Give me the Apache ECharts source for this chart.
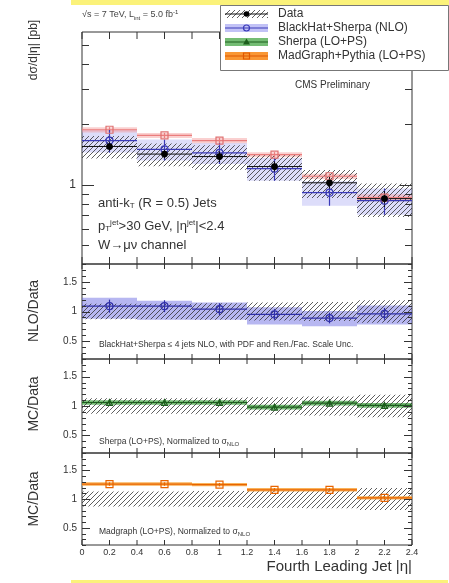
<!DOCTYPE html>
<html>
<head>
<meta charset="utf-8">
<script src="https://cdn.jsdelivr.net/npm/echarts@6/dist/echarts.min.js"></script>
<style>
  html, body { margin: 0; padding: 0; background: #fff; }
  #chart { width: 449px; height: 583px; }
</style>
</head>
<body>
<div id="chart"></div>
<script>
// bins in fourth leading jet |eta|
const binLo = [0, 0.4, 0.8, 1.2, 1.6, 2.0]
const binHi = [0.4, 0.8, 1.2, 1.6, 2.0, 2.4]
const binMid = [0.2, 0.6, 1.0, 1.4, 1.8, 2.2]

// main panel: dsigma/d|eta| [pb]
const dataXsec = [1.55, 1.42, 1.38, 1.23, 1.02, 0.85]
const dataStat = [0.05, 0.05, 0.06, 0.06, 0.07, 0.09] // relative
const dataSyst = [0.13, 0.13, 0.14, 0.15, 0.16, 0.19] // relative (hatched)
const nloXsec = [1.66, 1.5, 1.44, 1.2, 0.91, 0.83]
const nloUnc = [0.13, 0.12, 0.12, 0.13, 0.14, 0.15]
const mgXsec = [1.88, 1.76, 1.66, 1.41, 1.1, 0.86]
const mgUnc = [0.03, 0.03, 0.03, 0.03, 0.03, 0.04]

// ratio panels
const nloRatio = [1.09, 1.09, 1.04, 0.95, 0.89, 0.96]
const nloRatioErr = [0.11, 0.1, 0.1, 0.09, 0.09, 0.1]
const nloRatioLo = [0.88, 0.86, 0.86, 0.78, 0.75, 0.78]
const nloRatioHi = [1.23, 1.18, 1.15, 1.07, 1.01, 1.1]
const sherpaRatio = [1.06, 1.06, 1.06, 0.98, 1.05, 1.01]
const sherpaUnc = [0.04, 0.04, 0.04, 0.04, 0.04, 0.04]
const mgRatio = [1.26, 1.26, 1.25, 1.16, 1.16, 1.02]
const mgRatioUnc = [0.03, 0.03, 0.03, 0.03, 0.03, 0.03]

// ticks
const logMinorTicks = [0.5, 0.6, 0.7, 0.8, 0.9, 2, 3, 4, 5]
const logMajorTicks = [1]
const ratioMajorTicks = [0.5, 1, 1.5]
const ratioMinorTicks = [0.2, 0.3, 0.4, 0.6, 0.7, 0.8, 0.9, 1.1, 1.2, 1.3, 1.4, 1.6, 1.7, 1.8]
const xTickVals = [0, 0.2, 0.4, 0.6, 0.8, 1, 1.2, 1.4, 1.6, 1.8, 2, 2.2, 2.4]

const FONT = '"Liberation Sans", Arimo, Helvetica, Arial, sans-serif'
const LEFT = 82
const WIDTH = 330
const panels = [
  { top: 32, height: 232, ymin: 0.4, ymax: 5.8 },
  { top: 264, height: 95, ymin: 0.2, ymax: 1.8 },
  { top: 359, height: 94, ymin: 0.2, ymax: 1.8 },
  { top: 453, height: 92, ymin: 0.2, ymax: 1.8 },
]

// hatch pattern "////"
const hc = document.createElement('canvas')
hc.width = 5
hc.height = 5
const hg = hc.getContext('2d')
hg.strokeStyle = 'rgba(45,45,45,0.85)'
hg.lineWidth = 0.9
hg.beginPath()
hg.moveTo(0, 5); hg.lineTo(5, 0)
hg.moveTo(-1, 1); hg.lineTo(1, -1)
hg.moveTo(4, 6); hg.lineTo(6, 4)
hg.stroke()
const hatch = { image: hc, repeat: 'repeat' }

const chart = echarts.init(document.getElementById('chart'))

function bandItem(fill) {
  return function (params, api) {
    const a = api.coord([api.value(0), api.value(3)])
    const b = api.coord([api.value(1), api.value(2)])
    return {
      type: 'rect',
      shape: { x: a[0], y: a[1], width: b[0] - a[0], height: b[1] - a[1] },
      style: { fill: fill },
    }
  }
}

function errItem(color, lw) {
  return function (params, api) {
    const a = api.coord([api.value(0), api.value(3)])
    const b = api.coord([api.value(1), api.value(3)])
    const c = api.coord([api.value(2), api.value(4)])
    const d = api.coord([api.value(2), api.value(5)])
    return {
      type: 'group',
      children: [
        { type: 'line', shape: { x1: a[0], y1: a[1], x2: b[0], y2: b[1] }, style: { stroke: color, lineWidth: lw } },
        { type: 'line', shape: { x1: c[0], y1: c[1], x2: d[0], y2: d[1] }, style: { stroke: color, lineWidth: lw } },
      ],
    }
  }
}

// y ticks on left and right frame, drawn inward
function yTickItem(params, api) {
  const v = api.value(1)
  const len = api.value(2)
  const l = api.coord([0, v])
  const r = api.coord([2.4, v])
  const y = Math.round(l[1]) + 0.5
  return {
    type: 'group',
    children: [
      { type: 'line', shape: { x1: l[0], y1: y, x2: l[0] + len, y2: y }, style: { stroke: '#333', lineWidth: 1 } },
      { type: 'line', shape: { x1: r[0], y1: y, x2: r[0] - len, y2: y }, style: { stroke: '#333', lineWidth: 1 } },
    ],
  }
}

function xTickItem(p) {
  return function (params, api) {
    const v = api.value(0)
    const len = api.value(2)
    const b = api.coord([v, p.ymin])
    const t = api.coord([v, p.ymax])
    return {
      type: 'group',
      children: [
        { type: 'line', shape: { x1: b[0], y1: b[1], x2: b[0], y2: b[1] - len }, style: { stroke: '#333', lineWidth: 1 } },
        { type: 'line', shape: { x1: t[0], y1: t[1], x2: t[0], y2: t[1] + len }, style: { stroke: '#333', lineWidth: 1 } },
      ],
    }
  }
}

const series = []

function addBand(g, lo, hi, fill, z) {
  series.push({
    type: 'custom', xAxisIndex: g, yAxisIndex: g, silent: true, z: z,
    renderItem: bandItem(fill),
    encode: { x: [0, 1], y: [2, 3] },
    data: binLo.map((x, i) => [x, binHi[i], lo[i], hi[i]]),
  })
}

function addErr(g, val, lo, hi, color, lw, z) {
  series.push({
    type: 'custom', xAxisIndex: g, yAxisIndex: g, silent: true, z: z,
    renderItem: errItem(color, lw),
    encode: { x: [0, 1, 2], y: [3, 4, 5] },
    data: binLo.map((x, i) => [x, binHi[i], binMid[i], val[i], lo[i], hi[i]]),
  })
}

function addMarks(g, val, symbol, size, fill, border, z) {
  series.push({
    type: 'scatter', xAxisIndex: g, yAxisIndex: g, silent: true, z: z,
    symbol: symbol, symbolSize: size,
    itemStyle: { color: fill, borderColor: border, borderWidth: 1.2, opacity: 1 },
    data: binMid.map((x, i) => [x, val[i]]),
  })
}

function addTicks(g, p, yMajor, yMinor, yMajLen, yMinLen, xLen) {
  series.push({
    type: 'custom', xAxisIndex: g, yAxisIndex: g, silent: true, z: 20, clip: false,
    renderItem: yTickItem,
    encode: { x: 0, y: 1 },
    data: yMajor.map((v) => [0, v, yMajLen]).concat(yMinor.map((v) => [0, v, yMinLen])),
  })
  series.push({
    type: 'custom', xAxisIndex: g, yAxisIndex: g, silent: true, z: 20, clip: false,
    renderItem: xTickItem(p),
    encode: { x: 0, y: 1 },
    data: xTickVals.map((v) => [v, p.ymin, xLen]),
  })
}

const rel = (v, u, s) => v.map((y, i) => y * (1 + s * u[i]))
const abs = (v, u, s) => v.map((y, i) => y + s * u[i])
const ones = binMid.map(() => 1)

// main panel
addBand(0, rel(nloXsec, nloUnc, -1), rel(nloXsec, nloUnc, 1), 'rgba(120,120,235,0.25)', 3)
addBand(0, rel(mgXsec, mgUnc, -1), rel(mgXsec, mgUnc, 1), 'rgba(245,150,150,0.45)', 3)
addBand(0, rel(dataXsec, dataSyst, -1), rel(dataXsec, dataSyst, 1), hatch, 4)
addErr(0, mgXsec, rel(mgXsec, mgUnc, -1), rel(mgXsec, mgUnc, 1), '#ea7d7d', 1.2, 5)
addErr(0, nloXsec, rel(nloXsec, nloUnc, -1), rel(nloXsec, nloUnc, 1), '#3a3ab8', 1.2, 5)
addErr(0, dataXsec, rel(dataXsec, dataStat, -1), rel(dataXsec, dataStat, 1), '#111', 1, 6)
addMarks(0, mgXsec, 'rect', 7, 'rgba(255,255,255,0)', '#e07070', 7)
addMarks(0, nloXsec, 'circle', 7, 'rgba(255,255,255,0)', '#3a3ab8', 7)
addMarks(0, dataXsec, 'circle', 5.5, '#000', '#000', 8)
addTicks(0, panels[0], logMajorTicks, logMinorTicks, 12, 7, 7)

// NLO / data
addBand(1, nloRatioLo, nloRatioHi, 'rgba(95,95,225,0.45)', 3)
addBand(1, abs(ones, dataSyst, -1), abs(ones, dataSyst, 1), hatch, 4)
addErr(1, nloRatio, abs(nloRatio, nloRatioErr, -1), abs(nloRatio, nloRatioErr, 1), '#3030a8', 1.2, 5)
addMarks(1, nloRatio, 'circle', 7, 'rgba(255,255,255,0)', '#3030a8', 7)
addTicks(1, panels[1], ratioMajorTicks, ratioMinorTicks, 8, 4, 5)

// Sherpa / data
addBand(2, abs(sherpaRatio, sherpaUnc, -1), abs(sherpaRatio, sherpaUnc, 1), 'rgba(70,165,70,0.75)', 3)
addBand(2, abs(ones, dataSyst, -1), abs(ones, dataSyst, 1), hatch, 4)
addErr(2, sherpaRatio, abs(sherpaRatio, sherpaUnc, -1), abs(sherpaRatio, sherpaUnc, 1), '#1c5e1c', 1.2, 5)
addMarks(2, sherpaRatio, 'triangle', 6, 'rgba(255,255,255,0)', '#1c5e1c', 7)
addTicks(2, panels[2], ratioMajorTicks, ratioMinorTicks, 8, 4, 5)

// MadGraph / data
addBand(3, abs(ones, dataSyst, -1), abs(ones, dataSyst, 1), hatch, 4)
addBand(3, abs(mgRatio, mgRatioUnc, -1), abs(mgRatio, mgRatioUnc, 1), 'rgba(248,160,50,0.8)', 5)
addErr(3, mgRatio, abs(mgRatio, mgRatioUnc, -1), abs(mgRatio, mgRatioUnc, 1), '#e86400', 1.3, 6)
addMarks(3, mgRatio, 'rect', 7, 'rgba(255,255,255,0)', '#e86400', 7)
addTicks(3, panels[3], ratioMajorTicks, ratioMinorTicks, 8, 4, 5)

const grid = panels.map((p) => ({
  left: LEFT, width: WIDTH, top: p.top, height: p.height,
  show: true, borderColor: '#333', borderWidth: 1, backgroundColor: 'transparent',
}))

const xAxis = panels.map((p, i) => ({
  type: 'value', gridIndex: i, min: 0, max: 2.4, interval: 0.2,
  axisLine: { show: false }, axisTick: { show: false }, splitLine: { show: false },
  axisLabel: { show: i === 3, fontSize: 9, color: '#333', fontFamily: FONT, margin: 3 },
}))

const yAxis = panels.map((p, i) => {
  const base = {
    gridIndex: i, min: p.ymin, max: p.ymax,
    axisLine: { show: false }, axisTick: { show: false }, splitLine: { show: false },
  }
  if (i === 0) {
    return Object.assign(base, {
      type: 'log', logBase: 10,
      axisLabel: {
        fontSize: 12, color: '#333', fontFamily: FONT, margin: 6,
        formatter: (v) => (Math.abs(v - 1) < 1e-6 ? '1' : ''),
      },
    })
  }
  return Object.assign(base, {
    type: 'value',
    axisLabel: { customValues: ratioMajorTicks, fontSize: 10, color: '#333', fontFamily: FONT, margin: 5 },
  })
})

// legend and texts
const legendRows = [
  { label: 'Data', fill: hatch, line: '#111', sym: 'dot' },
  { label: 'BlackHat+Sherpa (NLO)', fill: 'rgba(120,120,235,0.45)', line: '#3a3ab8', sym: 'circle' },
  { label: 'Sherpa (LO+PS)', fill: 'rgba(70,165,70,0.75)', line: '#1c5e1c', sym: 'triangle' },
  { label: 'MadGraph+Pythia (LO+PS)', fill: 'rgba(248,140,30,0.9)', line: '#e05800', sym: 'square' },
]

const graphic = [
  { type: 'rect', z: 100, shape: { x: 71, y: 0, width: 378, height: 5 }, style: { fill: '#fbf27a' } },
  { type: 'rect', z: 100, shape: { x: 71, y: 580, width: 377, height: 3 }, style: { fill: '#fbf27a' } },
  { type: 'rect', z: 90, shape: { x: 220.5, y: 5.5, width: 228, height: 65 }, style: { fill: '#fff', stroke: '#777', lineWidth: 1 } },
]

legendRows.forEach((r, i) => {
  const cy = 14 + i * 14
  graphic.push({ type: 'rect', z: 91, shape: { x: 225, y: cy - 4, width: 43, height: 8 }, style: { fill: r.fill } })
  graphic.push({ type: 'line', z: 92, shape: { x1: 225, y1: cy, x2: 268, y2: cy }, style: { stroke: r.line, lineWidth: 1.2 } })
  if (r.sym === 'dot') {
    graphic.push({ type: 'circle', z: 93, shape: { cx: 246.5, cy: cy, r: 2.8 }, style: { fill: '#000' } })
  } else if (r.sym === 'circle') {
    graphic.push({ type: 'circle', z: 93, shape: { cx: 246.5, cy: cy, r: 3 }, style: { fill: 'rgba(0,0,0,0)', stroke: r.line, lineWidth: 1.2 } })
  } else if (r.sym === 'triangle') {
    graphic.push({ type: 'polygon', z: 93, shape: { points: [[246.5, cy - 3.5], [250, cy + 2.5], [243, cy + 2.5]] }, style: { fill: r.line } })
  } else {
    graphic.push({ type: 'rect', z: 93, shape: { x: 243.5, y: cy - 3, width: 6, height: 6 }, style: { fill: 'rgba(0,0,0,0)', stroke: r.line, lineWidth: 1.2 } })
  }
  graphic.push({
    type: 'text', z: 93, x: 278, y: cy,
    style: { text: r.label, fontSize: 12, fontFamily: FONT, fill: '#333', verticalAlign: 'middle' },
  })
})

const sub = (fs) => ({ fontSize: fs, fontFamily: FONT, fill: '#333', color: '#333', verticalAlign: 'bottom', padding: [4, 0, 0, 0] })
const sup = (fs) => ({ fontSize: fs, fontFamily: FONT, fill: '#333', color: '#333', verticalAlign: 'top', padding: [0, 0, 6, 0] })

function txt(x, y, text, fontSize, rich, fill) {
  const style = { text: text, fontSize: fontSize, fontFamily: FONT, fill: fill || '#333', verticalAlign: 'middle' }
  if (rich) style.rich = rich
  return { type: 'text', z: 95, x: x, y: y, style: style }
}

graphic.push(txt(82, 15, '\u221As = 7 TeV, L{s|int} = 5.0 fb{u|-1}', 9, { s: sub(6), u: sup(6) }, '#444'))
graphic.push(txt(295, 85, 'CMS Preliminary', 10))
graphic.push(txt(98, 203, 'anti-k{s|T} (R = 0.5) Jets', 13, { s: sub(8) }))
graphic.push(txt(98, 226, 'p{s|T}{u|jet}>30 GeV, |\u03B7{u|jet}|<2.4', 13, { s: sub(8), u: sup(8) }))
graphic.push(txt(98, 245, 'W\u2192\u03BC\u03BD channel', 13))
graphic.push(txt(99, 345, 'BlackHat+Sherpa \u2264 4 jets NLO, with PDF and Ren./Fac. Scale Unc.', 8.5))
graphic.push(txt(99, 442, 'Sherpa (LO+PS), Normalized to \u03C3{s|NLO}', 8.5, { s: sub(6) }))
graphic.push(txt(99, 532, 'Madgraph (LO+PS), Normalized to \u03C3{s|NLO}', 8.5, { s: sub(6) }))

// axis titles
graphic.push({
  type: 'text', z: 95, x: 412, y: 567,
  style: { text: 'Fourth Leading Jet |\u03B7|', fontSize: 15, fontFamily: FONT, fill: '#333', align: 'right', verticalAlign: 'middle' },
})
const yTitles = [
  { text: 'd\u03C3/d|\u03B7| [pb]', y: 50, size: 12 },
  { text: 'NLO/Data', y: 311, size: 14 },
  { text: 'MC/Data', y: 404, size: 14 },
  { text: 'MC/Data', y: 499, size: 14 },
]
yTitles.forEach((t) => {
  graphic.push({
    type: 'text', z: 95, x: 34, y: t.y, rotation: Math.PI / 2,
    style: { text: t.text, fontSize: t.size, fontFamily: FONT, fill: '#333', align: 'center', verticalAlign: 'middle' },
  })
})

chart.setOption({
  animation: false,
  backgroundColor: '#fff',
  grid: grid,
  xAxis: xAxis,
  yAxis: yAxis,
  series: series,
  graphic: graphic,
})
</script>
</body>
</html>
